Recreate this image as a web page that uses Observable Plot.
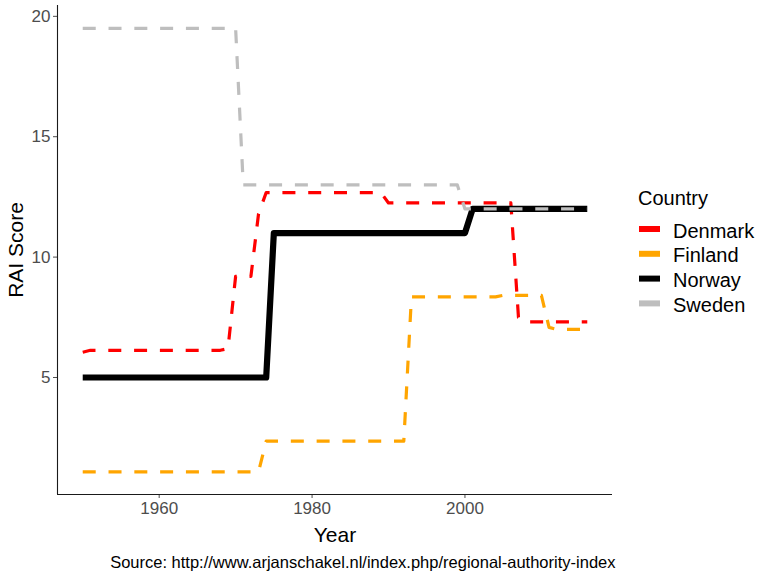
<!DOCTYPE html>
<html>
<head>
<meta charset="utf-8">
<script src="https://cdn.jsdelivr.net/npm/d3@7"></script>
<script src="https://cdn.jsdelivr.net/npm/@observablehq/plot@0.6"></script>
<style>
  html, body { margin: 0; padding: 0; background: #fff; }
  #chart { width: 759px; height: 573px; }
</style>
</head>
<body>
<div id="chart"></div>
<script>
// ---- data: breakpoints (year, RAI score); straight lines between them ----
const countries = ["Denmark", "Finland", "Norway", "Sweden"];
const colors = ["#FF0000", "#FFA500", "#000000", "#BEBEBE"];

const denmarkYears  = [1950, 1951, 1968, 1969, 1970, 1972, 1973, 1974, 1989, 1990, 2006, 2007, 2008, 2016];
const denmarkValues = [6.05, 6.13, 6.13, 6.2, 9.2, 9.2, 11.8, 12.68, 12.68, 12.25, 12.25, 7.5, 7.31, 7.31];

const finlandYears  = [1950, 1973, 1974, 1992, 1993, 2004, 2005, 2010, 2011, 2012, 2016];
const finlandValues = [1.08, 1.08, 2.36, 2.36, 8.35, 8.35, 8.41, 8.41, 7.08, 7.0, 7.0];

const norwayYears   = [1950, 1974, 1975, 2000, 2001, 2016];
const norwayValues  = [5, 5, 11, 11, 12, 12];

const swedenYears   = [1950, 1970, 1971, 1999, 2000, 2016];
const swedenValues  = [19.5, 19.5, 13, 13, 12, 12];

const xTicks = [1960, 1980, 2000];
const yTicks = [5, 10, 15, 20];
const xLabel = "Year";
const yLabel = "RAI Score";
const legendTitle = "Country";
const caption = "Source: http://www.arjanschakel.nl/index.php/regional-authority-index";

// ---- build table ----
const series = {
  Denmark: [denmarkYears, denmarkValues],
  Finland: [finlandYears, finlandValues],
  Norway: [norwayYears, norwayValues],
  Sweden: [swedenYears, swedenValues]
};
const rows = [];
for (const c of countries) {
  const [ys, vs] = series[c];
  ys.forEach((y, i) => rows.push({country: c, year: y, value: vs[i]}));
}

const font = "'Liberation Sans', Arial, Helvetica, sans-serif";
const xDomain = [1946.7, 2019.3];
const yDomain = [0.14, 20.45];

const lineStyle = {
  Denmark: {strokeWidth: 3.2, strokeDasharray: "13,12.8"},
  Finland: {strokeWidth: 3.2, strokeDasharray: "13,12.8"},
  Norway:  {strokeWidth: 6.2},
  Sweden:  {strokeWidth: 3.2, strokeDasharray: "13,12.8"}
};

const lineMarks = countries.map((c, i) => Plot.line(rows.filter(r => r.country === c), {
  x: "year", y: "value",
  stroke: colors[i],
  strokeLinejoin: "round",
  strokeLinecap: "butt",
  ...lineStyle[c]
}));

const chart = Plot.plot({
  width: 759,
  height: 573,
  marginLeft: 57,
  marginRight: 147,
  marginTop: 5,
  marginBottom: 79,
  style: {fontFamily: font, fontSize: "17px", background: "#fff", color: "#4D4D4D"},
  x: {domain: xDomain},
  y: {domain: yDomain},
  marks: [
    Plot.axisX({ticks: xTicks, tickSize: 4, tickPadding: 3, tickFormat: d => String(d), label: null, fontSize: 17}),
    Plot.axisY({ticks: yTicks, tickSize: 4, tickPadding: 3, tickFormat: d => String(d), label: null, fontSize: 17}),
    Plot.ruleX([xDomain[0]], {stroke: "#1a1a1a", strokeWidth: 1.1}),
    Plot.ruleY([yDomain[0]], {stroke: "#1a1a1a", strokeWidth: 1.1}),
    ...lineMarks,
    Plot.text([xLabel], {text: d => d, frameAnchor: "bottom", dy: 41, fontSize: 21, fill: "#000", lineAnchor: "middle", textAnchor: "middle"}),
    Plot.text([yLabel], {text: d => d, frameAnchor: "left", dx: -41, rotate: -90, fontSize: 21, fill: "#000", lineAnchor: "middle", textAnchor: "middle"}),
    Plot.text([caption], {text: d => d, frameAnchor: "bottom-right", dx: 3, dy: 68, textAnchor: "end", fontSize: 16.5, fill: "#000", lineAnchor: "middle"})
  ]
});

document.getElementById("chart").appendChild(chart);

// ---- legend ----
const svg = d3.select(chart);
const lg = svg.append("g").attr("font-family", font).attr("text-anchor", "start");
lg.append("text").attr("x", 638).attr("y", 198).attr("dy", "0.35em")
  .attr("font-size", 20).attr("fill", "#000").text(legendTitle);
countries.forEach((c, i) => {
  const y = 229 + i * 24.8;
  lg.append("line").attr("x1", 639).attr("x2", 660).attr("y1", y).attr("y2", y)
    .attr("stroke", colors[i]).attr("stroke-width", 6);
  lg.append("text").attr("x", 673).attr("y", y + 1.5).attr("dy", "0.35em")
    .attr("font-size", 20).attr("fill", "#000").text(c);
});
</script>
</body>
</html>
